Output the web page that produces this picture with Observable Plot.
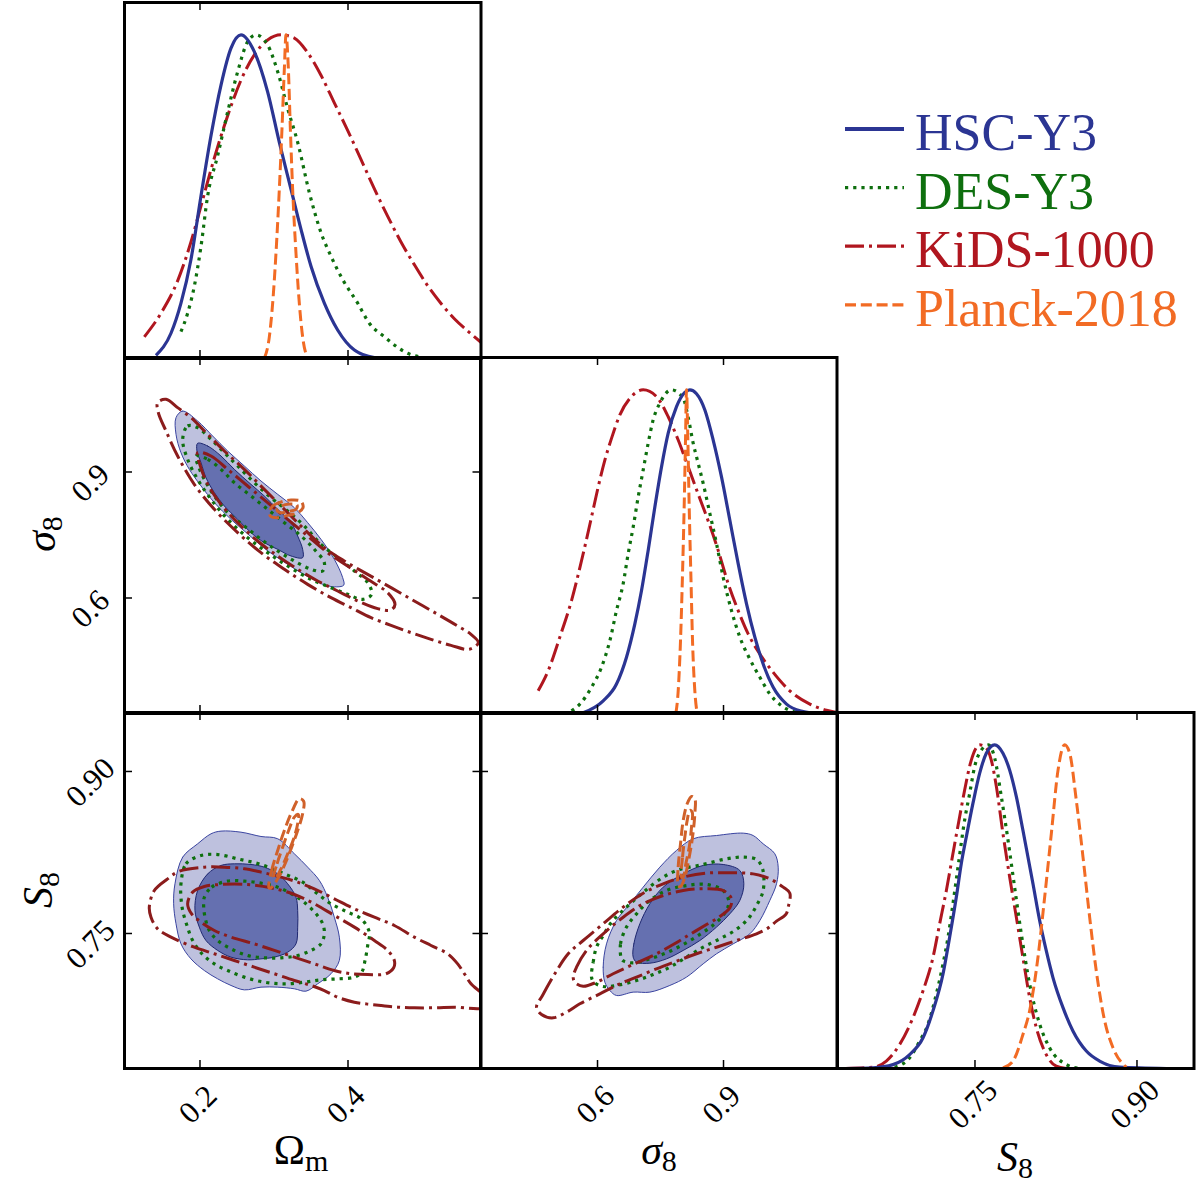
<!DOCTYPE html>
<html><head><meta charset="utf-8">
<script src="https://cdn.jsdelivr.net/npm/d3@7"></script>
<script src="https://cdn.jsdelivr.net/npm/@observablehq/plot@0.6"></script>
<style>
body{margin:0;background:#fff;}
#fig{position:relative;width:1198px;height:1183px;background:#fff;overflow:hidden;}
</style></head><body><div id="fig"></div><script>
// ---------- series / labels ----------
const seriesNames = ["HSC-Y3", "DES-Y3", "KiDS-1000", "Planck-2018"];
const omTicks = [0.2, 0.4], omTickLabels = ["0.2", "0.4"];
const sigTicks = [0.6, 0.9], sigTickLabels = ["0.6", "0.9"];
const s8Ticks = [0.75, 0.90], s8TickLabels = ["0.75", "0.90"];

// ---------- 1D posteriors: [value, relative density] ----------
const hscOm1d = [[0.1405,0.010],[0.1608,0.078],[0.1743,0.171],[0.1878,0.306],[0.2014,0.503],[0.2149,0.689],[0.2284,0.845],[0.2419,0.959],[0.2554,1.0],[0.2734,0.948],[0.2914,0.824],[0.3072,0.668],[0.3230,0.523],[0.3365,0.399],[0.3500,0.285],[0.3680,0.171],[0.3860,0.088],[0.4086,0.026],[0.4356,0.003],[0.4536,0]];
const desOm1d = [[0.1743,0.083],[0.1833,0.140],[0.1923,0.223],[0.2014,0.347],[0.2104,0.503],[0.2239,0.627],[0.2374,0.762],[0.2509,0.886],[0.2644,0.979],[0.2757,1.0],[0.2914,0.969],[0.3050,0.886],[0.3185,0.772],[0.3320,0.668],[0.3477,0.513],[0.3635,0.389],[0.3770,0.316],[0.3928,0.244],[0.4131,0.171],[0.4288,0.109],[0.4491,0.067],[0.4806,0.016],[0.5122,0]];
const kidsOm1d = [[0.1248,0.067],[0.1473,0.140],[0.1698,0.240],[0.1878,0.360],[0.2036,0.490],[0.2194,0.620],[0.2374,0.750],[0.2554,0.860],[0.2734,0.938],[0.2914,0.984],[0.3095,1.0],[0.3275,0.990],[0.3455,0.945],[0.3635,0.875],[0.3815,0.790],[0.3995,0.705],[0.4175,0.615],[0.4355,0.525],[0.4535,0.440],[0.4716,0.360],[0.4896,0.290],[0.5076,0.225],[0.5257,0.170],[0.5437,0.123],[0.5617,0.085],[0.5797,0.050]];
const planckOm1d = [[0.2869,0],[0.2937,0.067],[0.2982,0.171],[0.3027,0.326],[0.3072,0.523],[0.3108,0.710],[0.3140,0.896],[0.3162,1.0],[0.3194,0.896],[0.3221,0.710],[0.3252,0.523],[0.3297,0.326],[0.3342,0.171],[0.3387,0.067],[0.3455,0]];

const hscSig1d = [[0.5659,0.002],[0.6135,0.039],[0.6452,0.091],[0.6690,0.174],[0.6889,0.277],[0.7048,0.380],[0.7206,0.504],[0.7365,0.638],[0.7524,0.762],[0.7683,0.866],[0.7881,0.948],[0.8079,0.992],[0.8198,1.0],[0.8357,0.988],[0.8556,0.938],[0.8754,0.845],[0.8952,0.731],[0.9151,0.597],[0.9349,0.463],[0.9548,0.339],[0.9746,0.236],[0.9944,0.153],[1.0183,0.081],[1.0500,0.029],[1.0897,0.006],[1.1214,0]];
const desSig1d = [[0.5381,0.008],[0.5579,0.029],[0.5857,0.081],[0.6095,0.143],[0.6294,0.225],[0.6452,0.318],[0.6611,0.401],[0.6730,0.494],[0.6849,0.576],[0.6968,0.669],[0.7087,0.752],[0.7206,0.835],[0.7325,0.907],[0.7484,0.959],[0.7762,1.0],[0.8040,0.974],[0.8159,0.915],[0.8278,0.835],[0.8397,0.773],[0.8516,0.711],[0.8675,0.618],[0.8833,0.525],[0.8992,0.421],[0.9190,0.318],[0.9389,0.236],[0.9627,0.168],[0.9865,0.112],[1.0103,0.060],[1.0381,0.024],[1.0659,0.006],[1.0976,0]];
const kidsSig1d = [[0.4587,0.070],[0.4825,0.132],[0.5103,0.236],[0.5381,0.349],[0.5659,0.494],[0.5857,0.607],[0.6016,0.700],[0.6175,0.783],[0.6333,0.850],[0.6532,0.923],[0.6770,0.974],[0.7087,1.0],[0.7405,0.979],[0.7683,0.917],[0.7921,0.845],[0.8159,0.762],[0.8397,0.678],[0.8635,0.595],[0.8873,0.504],[0.9111,0.401],[0.9349,0.318],[0.9587,0.246],[0.9865,0.184],[1.0183,0.127],[1.0579,0.070],[1.1056,0.029],[1.1452,0.010],[1.1730,0.002]];
const planckSig1d = [[0.7865,0],[0.7921,0.070],[0.7976,0.225],[0.8024,0.432],[0.8063,0.638],[0.8095,0.845],[0.8119,1.0],[0.8151,0.845],[0.8183,0.638],[0.8222,0.432],[0.8262,0.225],[0.8317,0.070],[0.8373,0]];

const hscS81d = [[0.6300,0],[0.6556,0.002],[0.6741,0.012],[0.6895,0.043],[0.7019,0.095],[0.7111,0.178],[0.7204,0.292],[0.7265,0.405],[0.7327,0.529],[0.7373,0.633],[0.7420,0.716],[0.7481,0.819],[0.7543,0.912],[0.7605,0.974],[0.7682,1.0],[0.7759,0.974],[0.7821,0.922],[0.7883,0.840],[0.7944,0.736],[0.8037,0.571],[0.8099,0.457],[0.8160,0.364],[0.8222,0.281],[0.8315,0.188],[0.8407,0.116],[0.8531,0.054],[0.8654,0.023],[0.8840,0.004],[0.9272,0]];
const desS81d = [[0.6756,0.004],[0.6895,0.033],[0.6988,0.085],[0.7065,0.137],[0.7142,0.230],[0.7204,0.323],[0.7250,0.405],[0.7296,0.509],[0.7343,0.623],[0.7404,0.767],[0.7451,0.850],[0.7497,0.933],[0.7559,0.984],[0.7625,1.0],[0.7682,0.960],[0.7744,0.840],[0.7806,0.705],[0.7867,0.560],[0.7929,0.416],[0.8006,0.261],[0.8099,0.137],[0.8191,0.064],[0.8346,0.012],[0.8469,0]];
const kidsS81d = [[0.6300,0],[0.6556,0.004],[0.6679,0.023],[0.6802,0.074],[0.6926,0.157],[0.7019,0.240],[0.7111,0.343],[0.7173,0.447],[0.7235,0.550],[0.7296,0.664],[0.7358,0.778],[0.7404,0.860],[0.7466,0.953],[0.7543,1.0],[0.7605,0.990],[0.7651,0.953],[0.7698,0.871],[0.7759,0.726],[0.7821,0.592],[0.7883,0.467],[0.7944,0.343],[0.8006,0.219],[0.8068,0.126],[0.8160,0.043],[0.8253,0.007],[0.8346,0]];
const planckS81d = [[0.7759,0.002],[0.7852,0.023],[0.7944,0.105],[0.8006,0.178],[0.8083,0.343],[0.8145,0.529],[0.8207,0.726],[0.8269,0.922],[0.8330,1.0],[0.8377,0.974],[0.8438,0.829],[0.8500,0.654],[0.8562,0.467],[0.8623,0.302],[0.8701,0.147],[0.8778,0.064],[0.8901,0.004]];

// ---------- 2D contours (Omega_m, sigma_8): [x, y] ; "2" = 95%, "1" = 68% ----------
const hscOmSig2 = [[0.1676,1.0294],[0.1766,1.0452],[0.1968,1.0214],[0.2171,0.9857],[0.2374,0.9500],[0.2599,0.9143],[0.2824,0.8786],[0.3050,0.8468],[0.3275,0.8151],[0.3455,0.7794],[0.3635,0.7397],[0.3815,0.6921],[0.3928,0.6484],[0.3941,0.6302],[0.3725,0.6286],[0.3545,0.6429],[0.3365,0.6603],[0.3095,0.6905],[0.2869,0.7183],[0.2689,0.7460],[0.2419,0.7873],[0.2194,0.8270],[0.2014,0.8667],[0.1856,0.9063],[0.1743,0.9460],[0.1676,0.9897]];
const hscOmSig1 = [[0.1968,0.9683],[0.2104,0.9619],[0.2284,0.9381],[0.2464,0.9063],[0.2689,0.8706],[0.2869,0.8429],[0.3050,0.8111],[0.3230,0.7794],[0.3320,0.7476],[0.3387,0.7159],[0.3387,0.6960],[0.3230,0.7000],[0.3050,0.7159],[0.2869,0.7317],[0.2689,0.7556],[0.2509,0.7873],[0.2329,0.8190],[0.2194,0.8508],[0.2081,0.8865],[0.2014,0.9222],[0.1959,0.9500]];
const desOmSig2 = [[0.1766,0.9778],[0.1833,1.0095],[0.1968,1.0056],[0.2149,0.9778],[0.2329,0.9460],[0.2509,0.9143],[0.2734,0.8746],[0.2959,0.8389],[0.3185,0.8071],[0.3410,0.7714],[0.3635,0.7278],[0.3860,0.6960],[0.4086,0.6643],[0.4266,0.6365],[0.4320,0.6087],[0.4198,0.5968],[0.3995,0.6087],[0.3770,0.6246],[0.3500,0.6444],[0.3185,0.6762],[0.2914,0.7079],[0.2644,0.7437],[0.2374,0.7873],[0.2149,0.8349],[0.1968,0.8825],[0.1833,0.9302]];
const desOmSig1 = [[0.1946,0.9381],[0.2104,0.9302],[0.2284,0.9063],[0.2464,0.8746],[0.2689,0.8429],[0.2914,0.8111],[0.3140,0.7794],[0.3365,0.7476],[0.3545,0.7159],[0.3680,0.6841],[0.3658,0.6643],[0.3500,0.6683],[0.3275,0.6881],[0.3050,0.7119],[0.2824,0.7397],[0.2599,0.7714],[0.2374,0.8032],[0.2194,0.8429],[0.2059,0.8825],[0.1977,0.9143]];
const kidsOmSig2 = [[0.1428,1.0651],[0.1541,1.0730],[0.1698,1.0532],[0.1878,1.0294],[0.2104,0.9897],[0.2329,0.9500],[0.2599,0.9063],[0.2869,0.8587],[0.3140,0.8111],[0.3410,0.7635],[0.3680,0.7198],[0.3950,0.6881],[0.4266,0.6563],[0.4581,0.6246],[0.4896,0.5929],[0.5212,0.5611],[0.5482,0.5333],[0.5662,0.5135],[0.5761,0.4937],[0.5640,0.4778],[0.5392,0.4873],[0.5122,0.5016],[0.4851,0.5175],[0.4581,0.5349],[0.4311,0.5532],[0.4041,0.5770],[0.3770,0.6008],[0.3455,0.6325],[0.3140,0.6683],[0.2824,0.7079],[0.2509,0.7556],[0.2194,0.8111],[0.1923,0.8706],[0.1698,0.9381],[0.1541,0.9976],[0.1437,1.0413]];
const kidsOmSig1 = [[0.1968,0.9460],[0.2149,0.9381],[0.2374,0.9063],[0.2644,0.8667],[0.2914,0.8270],[0.3185,0.7873],[0.3455,0.7476],[0.3725,0.7079],[0.3995,0.6762],[0.4266,0.6444],[0.4536,0.6127],[0.4635,0.5849],[0.4581,0.5714],[0.4401,0.5746],[0.4131,0.5929],[0.3860,0.6167],[0.3590,0.6405],[0.3320,0.6683],[0.3050,0.7000],[0.2779,0.7357],[0.2509,0.7794],[0.2284,0.8230],[0.2104,0.8706],[0.2005,0.9143]];
const planckOmSig2 = [[0.2937,0.8032],[0.2982,0.8190],[0.3095,0.8286],[0.3230,0.8333],[0.3365,0.8302],[0.3392,0.8151],[0.3320,0.8032],[0.3185,0.7968],[0.3050,0.7913],[0.2959,0.7937]];
const planckOmSig1 = [[0.3041,0.8095],[0.3104,0.8190],[0.3207,0.8238],[0.3311,0.8214],[0.3297,0.8111],[0.3185,0.8056],[0.3086,0.8032]];

// ---------- 2D contours (Omega_m, S_8) ----------
const hscOmS82 = [[0.1662,0.7960],[0.1766,0.8207],[0.1968,0.8330],[0.2149,0.8423],[0.2284,0.8448],[0.2554,0.8438],[0.2824,0.8398],[0.3050,0.8377],[0.3275,0.8238],[0.3455,0.8114],[0.3613,0.7991],[0.3725,0.7836],[0.3815,0.7651],[0.3883,0.7466],[0.3883,0.7250],[0.3770,0.7127],[0.3590,0.7034],[0.3432,0.6966],[0.3275,0.6988],[0.3050,0.7003],[0.2824,0.7003],[0.2599,0.6978],[0.2419,0.7019],[0.2239,0.7080],[0.2059,0.7157],[0.1878,0.7265],[0.1743,0.7404],[0.1676,0.7590],[0.1644,0.7775]];
const hscOmS81 = [[0.1968,0.7898],[0.2104,0.8052],[0.2284,0.8130],[0.2464,0.8145],[0.2689,0.8139],[0.2869,0.8114],[0.3050,0.8052],[0.3185,0.7960],[0.3297,0.7836],[0.3320,0.7713],[0.3320,0.7559],[0.3297,0.7404],[0.3185,0.7327],[0.3005,0.7281],[0.2824,0.7265],[0.2644,0.7256],[0.2419,0.7281],[0.2239,0.7343],[0.2081,0.7435],[0.1991,0.7559],[0.1932,0.7713]];
const desOmS82 = [[0.1743,0.7960],[0.1811,0.8145],[0.2014,0.8222],[0.2239,0.8231],[0.2509,0.8191],[0.2824,0.8139],[0.3140,0.8052],[0.3387,0.7975],[0.3590,0.7867],[0.3770,0.7775],[0.3995,0.7698],[0.4176,0.7636],[0.4288,0.7512],[0.4266,0.7389],[0.4230,0.7250],[0.4185,0.7142],[0.4086,0.7096],[0.3860,0.7080],[0.3635,0.7071],[0.3410,0.7049],[0.3140,0.7034],[0.2869,0.7049],[0.2599,0.7096],[0.2374,0.7157],[0.2194,0.7219],[0.2036,0.7306],[0.1901,0.7435],[0.1824,0.7574],[0.1766,0.7713],[0.1743,0.7836]];
const desOmS81 = [[0.2059,0.7836],[0.2158,0.7929],[0.2374,0.7985],[0.2599,0.7985],[0.2824,0.7966],[0.3050,0.7929],[0.3275,0.7852],[0.3432,0.7775],[0.3568,0.7682],[0.3658,0.7590],[0.3680,0.7497],[0.3635,0.7404],[0.3500,0.7343],[0.3320,0.7296],[0.3095,0.7275],[0.2869,0.7275],[0.2644,0.7296],[0.2419,0.7358],[0.2239,0.7435],[0.2126,0.7528],[0.2068,0.7651],[0.2050,0.7744]];
const kidsOmS82 = [[0.1315,0.7744],[0.1383,0.7898],[0.1563,0.8006],[0.1721,0.8077],[0.2059,0.8114],[0.2329,0.8114],[0.2599,0.8099],[0.2824,0.8068],[0.3095,0.8022],[0.3320,0.7975],[0.3545,0.7914],[0.3815,0.7821],[0.4086,0.7728],[0.4356,0.7651],[0.4626,0.7574],[0.4896,0.7466],[0.5122,0.7389],[0.5347,0.7312],[0.5482,0.7219],[0.5572,0.7127],[0.5662,0.7034],[0.5850,0.6910],[0.5850,0.6818],[0.5437,0.6818],[0.5167,0.6812],[0.4896,0.6812],[0.4671,0.6818],[0.4446,0.6833],[0.4086,0.6864],[0.3860,0.6910],[0.3680,0.6972],[0.3500,0.7019],[0.3275,0.7065],[0.3005,0.7127],[0.2734,0.7188],[0.2464,0.7250],[0.2194,0.7312],[0.1923,0.7373],[0.1608,0.7466],[0.1428,0.7543],[0.1338,0.7651]];
const kidsOmS81 = [[0.1833,0.7775],[0.1901,0.7883],[0.2059,0.7935],[0.2284,0.7954],[0.2644,0.7954],[0.2959,0.7923],[0.3275,0.7861],[0.3545,0.7775],[0.3815,0.7667],[0.4086,0.7559],[0.4356,0.7435],[0.4536,0.7343],[0.4626,0.7250],[0.4617,0.7182],[0.4514,0.7127],[0.4266,0.7120],[0.4041,0.7127],[0.3815,0.7157],[0.3545,0.7219],[0.3275,0.7281],[0.3005,0.7343],[0.2734,0.7404],[0.2419,0.7466],[0.2194,0.7528],[0.2014,0.7605],[0.1887,0.7682]];
const planckOmS82 = [[0.2932,0.7923],[0.2968,0.8083],[0.3050,0.8269],[0.3140,0.8454],[0.3239,0.8623],[0.3342,0.8747],[0.3401,0.8725],[0.3387,0.8608],[0.3320,0.8454],[0.3239,0.8299],[0.3149,0.8145],[0.3050,0.8006],[0.2959,0.7923]];
const planckOmS81 = [[0.2995,0.8022],[0.3041,0.8145],[0.3117,0.8299],[0.3198,0.8454],[0.3275,0.8577],[0.3329,0.8602],[0.3320,0.8515],[0.3266,0.8377],[0.3185,0.8238],[0.3095,0.8099],[0.3014,0.8006]];

// ---------- 2D contours (sigma_8, S_8) ----------
const hscSigS82 = [[0.6175,0.7049],[0.6135,0.7188],[0.6214,0.7404],[0.6452,0.7620],[0.6770,0.7775],[0.7087,0.7929],[0.7484,0.8114],[0.7881,0.8269],[0.8278,0.8377],[0.8833,0.8407],[0.9468,0.8429],[0.9706,0.8407],[0.9944,0.8330],[1.0222,0.8238],[1.0302,0.8114],[1.0262,0.7960],[1.0103,0.7806],[0.9865,0.7620],[0.9627,0.7497],[0.9230,0.7404],[0.8833,0.7312],[0.8516,0.7219],[0.8119,0.7096],[0.7722,0.7019],[0.7246,0.6957],[0.6849,0.6957],[0.6452,0.6926],[0.6294,0.6972]];
const hscSigS81 = [[0.6849,0.7281],[0.6865,0.7404],[0.7008,0.7590],[0.7246,0.7775],[0.7563,0.7929],[0.8040,0.8052],[0.8516,0.8130],[0.8992,0.8139],[0.9389,0.8083],[0.9484,0.7960],[0.9389,0.7806],[0.9151,0.7682],[0.8833,0.7559],[0.8437,0.7435],[0.8040,0.7343],[0.7643,0.7265],[0.7246,0.7225],[0.6929,0.7235]];
const desSigS82 = [[0.5857,0.7096],[0.5897,0.7235],[0.5976,0.7373],[0.6135,0.7481],[0.6333,0.7605],[0.6690,0.7744],[0.7048,0.7867],[0.7444,0.7991],[0.7881,0.8083],[0.8516,0.8139],[0.9071,0.8191],[0.9468,0.8207],[0.9786,0.8185],[0.9929,0.8099],[0.9944,0.7898],[0.9786,0.7759],[0.9587,0.7636],[0.9270,0.7528],[0.8913,0.7451],[0.8516,0.7373],[0.8119,0.7281],[0.7722,0.7188],[0.7325,0.7120],[0.6929,0.7065],[0.6452,0.7019],[0.6135,0.7009],[0.5913,0.7049]];
const desSigS81 = [[0.6571,0.7265],[0.6548,0.7404],[0.6690,0.7559],[0.6929,0.7682],[0.7246,0.7806],[0.7643,0.7898],[0.8119,0.7944],[0.8595,0.7954],[0.8992,0.7898],[0.9127,0.7790],[0.9008,0.7676],[0.8770,0.7583],[0.8437,0.7491],[0.8040,0.7398],[0.7643,0.7321],[0.7246,0.7265],[0.6849,0.7228],[0.6627,0.7244]];
const kidsSigS82 = [[0.4548,0.6818],[0.4690,0.6926],[0.4984,0.7127],[0.5302,0.7312],[0.5659,0.7435],[0.6135,0.7590],[0.6611,0.7744],[0.7087,0.7873],[0.7563,0.7960],[0.8040,0.8022],[0.8595,0.8059],[0.9151,0.8062],[0.9706,0.8052],[1.0103,0.8006],[1.0421,0.7929],[1.0579,0.7873],[1.0540,0.7744],[1.0484,0.7676],[1.0262,0.7614],[1.0063,0.7552],[0.9786,0.7497],[0.9310,0.7435],[0.8833,0.7373],[0.8357,0.7312],[0.7881,0.7244],[0.7405,0.7173],[0.6929,0.7096],[0.6532,0.7034],[0.6056,0.6941],[0.5579,0.6849],[0.5262,0.6772],[0.4944,0.6719],[0.4667,0.6750]];
const kidsSigS81 = [[0.5421,0.7096],[0.5500,0.7188],[0.5738,0.7343],[0.6135,0.7497],[0.6611,0.7651],[0.7087,0.7775],[0.7563,0.7852],[0.8040,0.7898],[0.8516,0.7914],[0.8992,0.7898],[0.9190,0.7821],[0.9151,0.7738],[0.8913,0.7657],[0.8595,0.7583],[0.8198,0.7491],[0.7802,0.7398],[0.7325,0.7296],[0.6849,0.7213],[0.6373,0.7127],[0.5976,0.7049],[0.5659,0.7012],[0.5460,0.7049]];
const planckSigS82 = [[0.7921,0.7944],[0.7921,0.8114],[0.7976,0.8330],[0.8040,0.8546],[0.8135,0.8701],[0.8238,0.8769],[0.8317,0.8747],[0.8317,0.8608],[0.8262,0.8392],[0.8183,0.8207],[0.8079,0.8022],[0.7976,0.7935]];
const planckSigS81 = [[0.8000,0.8022],[0.8024,0.8207],[0.8079,0.8392],[0.8135,0.8546],[0.8198,0.8639],[0.8254,0.8623],[0.8238,0.8485],[0.8183,0.8299],[0.8103,0.8145],[0.8040,0.8022]];

// ---------- styling & layout ----------
const FONT = '"Liberation Serif", "DejaVu Serif", serif';
const colors1d = ["#2b3593", "#0e6f0e", "#b0161f", "#f26b24"];
const colors2d = ["#2b3593", "#0e6f0e", "#8b1c1c", "#d0612a"];
const dashes = [null, "3.2,5", "19,5,3,5", "11,4.8"];
const widths = [3.2, 3.2, 3, 3];
const hscFillOuter = "#bec1de", hscFillInner = "#6570b0";

const omDomain = [0.098, 0.5797];
const sigXDomain = [0.3214, 1.1702];
const sigYDomain = [0.325, 1.1726];
const s8XDomain = [0.6227, 0.9528];
const s8YDomain = [0.625, 0.9546];
const pDomain = [0, 1.1];

const colLeft = [123.5, 480, 836.5], colW = 356.5;
const rowTop = [1.5, 356.5, 712], rowH = 356;
const M = 80;
const TICKFONT = 31;
const fig = document.getElementById("fig");

function line1d(data, k) {
  return Plot.line(data, {x: d => d[0], y: d => d[1], curve: "monotone-x", clip: true,
    stroke: colors1d[k], strokeWidth: widths[k], strokeDasharray: dashes[k] || undefined,
    strokeLinecap: "butt", strokeLinejoin: "round"});
}
function contour(data, k) {
  return Plot.line(data, {x: d => d[0], y: d => d[1], curve: "catmull-rom-closed", clip: true,
    stroke: colors2d[k], strokeWidth: widths[k], strokeDasharray: dashes[k] || undefined,
    strokeLinecap: "butt", strokeLinejoin: "round"});
}
function hscFill(data, fill, stroke) {
  return Plot.line(data, {x: d => d[0], y: d => d[1], curve: "catmull-rom-closed", clip: true,
    fill, stroke, strokeWidth: 1});
}

function panel(col, row, o) {
  const tickStyle = {stroke: "black", strokeWidth: 1.5};
  const marks = [...o.marks];
  marks.push(Plot.ruleX(o.xTicks, {...tickStyle, insetTop: rowH - 8}));
  marks.push(Plot.ruleX(o.xTicks, {...tickStyle, insetBottom: rowH - 8}));
  if (o.yTicks) {
    marks.push(Plot.ruleY(o.yTicks, {...tickStyle, insetLeft: colW - 8}));
    marks.push(Plot.ruleY(o.yTicks, {...tickStyle, insetRight: colW - 8}));
  }
  marks.push(Plot.frame({stroke: "black", strokeWidth: 3}));
  if (o.xLabels) marks.push(Plot.text(o.xTicks, {x: d => d, text: (d, i) => o.xLabels[i],
    frameAnchor: "bottom", dy: 36, dx: -2, rotate: -45, fontSize: TICKFONT, fontFamily: FONT,
    textAnchor: "middle", lineAnchor: "middle", fill: "black"}));
  if (o.yLabels) marks.push(Plot.text(o.yTicks, {y: d => d, text: (d, i) => o.yLabels[i],
    frameAnchor: "left", dx: -34, dy: 11, rotate: -45, fontSize: TICKFONT, fontFamily: FONT,
    textAnchor: "middle", lineAnchor: "middle", fill: "black"}));
  const svg = Plot.plot({
    width: colW + 2 * M, height: rowH + 2 * M, margin: M,
    x: {domain: o.xDomain, axis: null},
    y: {domain: o.yDomain, axis: null},
    style: {background: "transparent", overflow: "visible", fontFamily: FONT},
    marks
  });
  svg.style.position = "absolute";
  svg.style.left = (colLeft[col] - M) + "px";
  svg.style.top = (rowTop[row] - M) + "px";
  svg.style.maxWidth = "none";
  fig.appendChild(svg);
}

// Panel: Omega_m 1D
panel(0, 0, {xDomain: omDomain, yDomain: pDomain, xTicks: omTicks,
  marks: [line1d(kidsOm1d, 2), line1d(desOm1d, 1), line1d(hscOm1d, 0), line1d(planckOm1d, 3)]});
// Panel: Omega_m vs sigma_8
panel(0, 1, {xDomain: omDomain, yDomain: sigYDomain, xTicks: omTicks, yTicks: sigTicks, yLabels: sigTickLabels,
  marks: [hscFill(hscOmSig2, hscFillOuter, "#3a44a0"), hscFill(hscOmSig1, hscFillInner, "#1f2870"),
    contour(desOmSig2, 1), contour(desOmSig1, 1), contour(kidsOmSig2, 2), contour(kidsOmSig1, 2),
    contour(planckOmSig2, 3), contour(planckOmSig1, 3)]});
// Panel: sigma_8 1D
panel(1, 1, {xDomain: sigXDomain, yDomain: pDomain, xTicks: sigTicks,
  marks: [line1d(kidsSig1d, 2), line1d(desSig1d, 1), line1d(hscSig1d, 0), line1d(planckSig1d, 3)]});
// Panel: Omega_m vs S_8
panel(0, 2, {xDomain: omDomain, yDomain: s8YDomain, xTicks: omTicks, xLabels: omTickLabels, yTicks: s8Ticks, yLabels: s8TickLabels,
  marks: [hscFill(hscOmS82, hscFillOuter, "#3a44a0"), hscFill(hscOmS81, hscFillInner, "#1f2870"),
    contour(desOmS82, 1), contour(desOmS81, 1), contour(kidsOmS82, 2), contour(kidsOmS81, 2),
    contour(planckOmS82, 3), contour(planckOmS81, 3)]});
// Panel: sigma_8 vs S_8
panel(1, 2, {xDomain: sigXDomain, yDomain: s8YDomain, xTicks: sigTicks, xLabels: sigTickLabels, yTicks: s8Ticks,
  marks: [hscFill(hscSigS82, hscFillOuter, "#3a44a0"), hscFill(hscSigS81, hscFillInner, "#1f2870"),
    contour(desSigS82, 1), contour(desSigS81, 1), contour(kidsSigS82, 2), contour(kidsSigS81, 2),
    contour(planckSigS82, 3), contour(planckSigS81, 3)]});
// Panel: S_8 1D
panel(2, 2, {xDomain: s8XDomain, yDomain: pDomain, xTicks: s8Ticks, xLabels: s8TickLabels,
  marks: [line1d(kidsS81d, 2), line1d(desS81d, 1), line1d(hscS81d, 0), line1d(planckS81d, 3)]});

// ---------- overlay: axis titles and legend ----------
const ov = d3.select(fig).append("svg").attr("width", 1198).attr("height", 1183)
  .style("position", "absolute").style("left", "0px").style("top", "0px")
  .style("font-family", FONT);

function title(x, y, main, sub, italic, rot) {
  const t = ov.append("text").attr("x", x).attr("y", y).attr("text-anchor", "middle")
    .attr("font-size", 42).attr("fill", "black");
  if (rot) t.attr("transform", `rotate(${rot},${x},${y})`);
  t.append("tspan").text(main).attr("font-style", italic ? "italic" : "normal");
  t.append("tspan").text(sub).attr("font-size", 30).attr("dy", 7);
}
title(301, 1164, "Ω", "m", false, 0);
title(659, 1164, "σ", "8", true, 0);
title(1015, 1171, "S", "8", true, 0);
title(55, 534, "σ", "8", true, -90);
title(52, 890, "S", "8", true, -90);

const lg = ov.append("g");
seriesNames.forEach((name, i) => {
  const yL = 129 + i * 58.6;
  lg.append("line").attr("x1", 845).attr("x2", 904).attr("y1", yL).attr("y2", yL)
    .attr("stroke", colors1d[i]).attr("stroke-width", i === 0 ? 4 : 3.2)
    .attr("stroke-dasharray", dashes[i]).attr("stroke-linecap", "butt");
  lg.append("text").attr("x", 915).attr("y", yL + 21).attr("font-size", 52)
    .attr("fill", colors1d[i]).text(name);
});
</script></body></html>
